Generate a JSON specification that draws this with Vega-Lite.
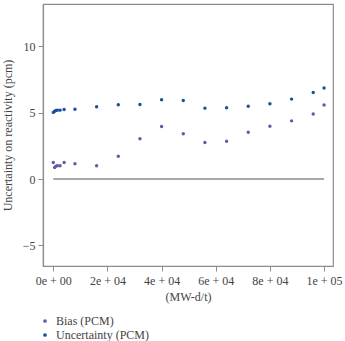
{
  "$schema": "https://vega.github.io/schema/vega-lite/v6.json",
  "autosize": "none",
  "width": 290,
  "height": 262,
  "padding": {"left": 43, "top": 4, "right": 12, "bottom": 75},
  "background": "white",
  "config": {
    "view": {"stroke": "#8c8c8c", "strokeWidth": 1.2},
    "font": "Liberation Serif",
    "axis": {
      "grid": false,
      "domainColor": "#8c8c8c",
      "domainWidth": 1.2,
      "tickColor": "#8c8c8c",
      "tickSize": 5,
      "labelFont": "Liberation Serif",
      "labelFontSize": 12,
      "labelColor": "#444",
      "titleFont": "Liberation Serif",
      "titleFontSize": 12,
      "titleFontWeight": "normal",
      "titleColor": "#444"
    },
    "legend": {
      "labelFont": "Liberation Serif",
      "labelFontSize": 12,
      "labelColor": "#444"
    }
  },
  "layer": [
    {
      "data": {"values": [{"start": 0, "end": 100000, "level": 0}]},
      "mark": {"type": "rule", "color": "#8c8c8c", "strokeWidth": 1.5},
      "encoding": {
        "x": {"field": "start", "type": "quantitative", "scale": {"domain": [-3800, 103300], "nice": false, "zero": false}},
        "x2": {"field": "end"},
        "y": {"field": "level", "type": "quantitative", "scale": {"domain": [-6.55, 13.2], "nice": false}}
      }
    },
    {
      "data": {
        "values": [
          {"burnup": 0, "value": 1.26, "series": "Bias (PCM)"},
          {"burnup": 500, "value": 0.88, "series": "Bias (PCM)"},
          {"burnup": 1000, "value": 0.98, "series": "Bias (PCM)"},
          {"burnup": 1500, "value": 1.0, "series": "Bias (PCM)"},
          {"burnup": 2500, "value": 1.0, "series": "Bias (PCM)"},
          {"burnup": 4000, "value": 1.26, "series": "Bias (PCM)"},
          {"burnup": 8000, "value": 1.16, "series": "Bias (PCM)"},
          {"burnup": 16000, "value": 1.0, "series": "Bias (PCM)"},
          {"burnup": 24000, "value": 1.73, "series": "Bias (PCM)"},
          {"burnup": 32000, "value": 3.04, "series": "Bias (PCM)"},
          {"burnup": 40000, "value": 3.97, "series": "Bias (PCM)"},
          {"burnup": 48000, "value": 3.42, "series": "Bias (PCM)"},
          {"burnup": 56000, "value": 2.76, "series": "Bias (PCM)"},
          {"burnup": 64000, "value": 2.86, "series": "Bias (PCM)"},
          {"burnup": 72000, "value": 3.54, "series": "Bias (PCM)"},
          {"burnup": 80000, "value": 3.99, "series": "Bias (PCM)"},
          {"burnup": 88000, "value": 4.39, "series": "Bias (PCM)"},
          {"burnup": 96000, "value": 4.9, "series": "Bias (PCM)"},
          {"burnup": 100000, "value": 5.58, "series": "Bias (PCM)"},
          {"burnup": 0, "value": 5.03, "series": "Uncertainty (PCM)"},
          {"burnup": 500, "value": 5.12, "series": "Uncertainty (PCM)"},
          {"burnup": 1000, "value": 5.17, "series": "Uncertainty (PCM)"},
          {"burnup": 1500, "value": 5.2, "series": "Uncertainty (PCM)"},
          {"burnup": 2500, "value": 5.2, "series": "Uncertainty (PCM)"},
          {"burnup": 4000, "value": 5.25, "series": "Uncertainty (PCM)"},
          {"burnup": 8000, "value": 5.27, "series": "Uncertainty (PCM)"},
          {"burnup": 16000, "value": 5.45, "series": "Uncertainty (PCM)"},
          {"burnup": 24000, "value": 5.6, "series": "Uncertainty (PCM)"},
          {"burnup": 32000, "value": 5.62, "series": "Uncertainty (PCM)"},
          {"burnup": 40000, "value": 5.98, "series": "Uncertainty (PCM)"},
          {"burnup": 48000, "value": 5.93, "series": "Uncertainty (PCM)"},
          {"burnup": 56000, "value": 5.35, "series": "Uncertainty (PCM)"},
          {"burnup": 64000, "value": 5.38, "series": "Uncertainty (PCM)"},
          {"burnup": 72000, "value": 5.5, "series": "Uncertainty (PCM)"},
          {"burnup": 80000, "value": 5.68, "series": "Uncertainty (PCM)"},
          {"burnup": 88000, "value": 6.03, "series": "Uncertainty (PCM)"},
          {"burnup": 96000, "value": 6.53, "series": "Uncertainty (PCM)"},
          {"burnup": 100000, "value": 6.86, "series": "Uncertainty (PCM)"}
        ]
      },
      "mark": {"type": "point", "filled": true, "shape": "circle", "size": 12, "opacity": 1},
      "encoding": {
        "x": {
          "field": "burnup",
          "type": "quantitative",
          "title": "(MW-d/t)",
          "scale": {"domain": [-3800, 103300], "nice": false, "zero": false},
          "axis": {
            "values": [0, 20000, 40000, 60000, 80000, 100000],
            "labelExpr": "datum.value == 0 ? '0e + 00' : datum.value == 100000 ? '1e + 05' : (datum.value / 10000) + 'e + 04'",
            "labelPadding": 4,
            "titlePadding": 5
          }
        },
        "y": {
          "field": "value",
          "type": "quantitative",
          "title": "Uncertainty on reactivity (pcm)",
          "scale": {"domain": [-6.55, 13.2], "nice": false},
          "axis": {"values": [-5, 0, 5, 10], "labelPadding": 3, "titlePadding": 8}
        },
        "color": {
          "field": "series",
          "type": "nominal",
          "scale": {"domain": ["Bias (PCM)", "Uncertainty (PCM)"], "range": ["#6a57a8", "#1d4f9c"]},
          "legend": {
            "title": null,
            "orient": "none",
            "legendX": -4,
            "legendY": 311,
            "symbolSize": 14,
            "symbolType": "circle",
            "rowPadding": 2,
            "labelOffset": 5
          }
        }
      }
    }
  ]
}
